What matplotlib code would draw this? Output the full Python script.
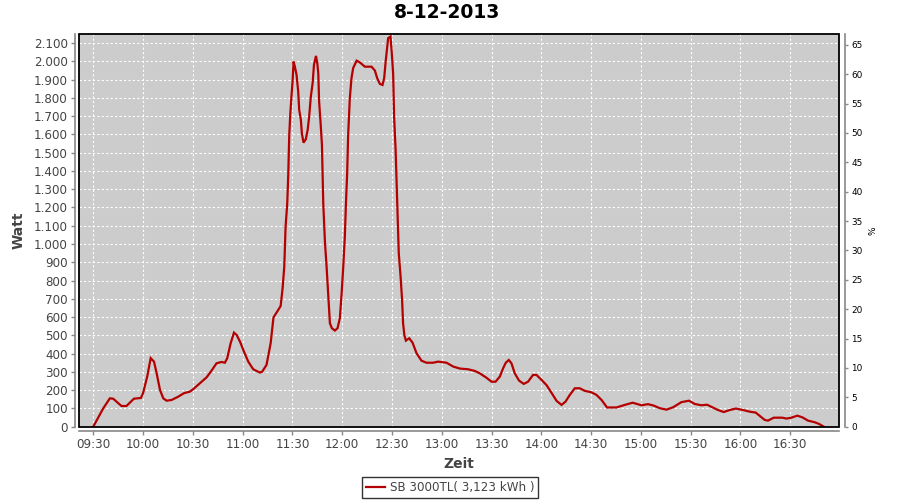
import matplotlib
matplotlib.use("Agg")
import matplotlib.pyplot as plt
import matplotlib.dates as mdates
from matplotlib.patches import Rectangle
from matplotlib.ticker import FuncFormatter, MultipleLocator
import pandas as pd

title = "8-12-2013"
series_label = "SB 3000TL( 3,123 kWh )"
start_time = "2013-12-08 09:30"

# minutes after 09:30 and power in Watt
minutes = [0, 6, 10, 12, 17, 20, 24.5, 28.7, 30, 32.5, 34.6, 36.6, 38.2, 40.2, 42.2,
           44.2, 47.2, 51.2, 54.6, 58.3, 60.2, 64.3, 68.3, 71.3, 74.3, 77.3, 79.3,
           80.7, 82.8, 84.8, 86.4, 88.4, 90.8, 93.4, 96.4, 100.4, 101.8, 104.4, 106.9,
           108.6, 110.5, 112.9, 114.1, 115.1, 115.9, 116.9, 117.5, 118.1, 118.7, 119.5,
           120.1, 120.7, 121.5, 122.5, 123.5, 124.1, 125.1, 125.7, 126.7, 128.1, 129.2,
           130.1, 131.1, 132.2, 133.0, 134.2, 135.0, 135.6, 136.1, 137.0, 137.8, 138.6,
           139.6, 140.6, 141.6, 142.6, 143.8, 145.6, 147.2, 148.6, 149.6, 150.6, 151.6,
           152.2, 153.0, 153.6, 154.6, 155.6, 156.6, 158.7, 160.7, 163.7, 167.7, 169.7,
           171.1, 172.7, 174.3, 175.3, 176.3, 177.7, 179.1, 179.9, 180.7, 181.3, 182.2,
           183.1, 184.1, 185.2, 186.1, 186.7, 187.5, 188.4, 190.4, 192.4, 194.8, 197.8,
           200.8, 204.8, 207.8, 212.9, 216.9, 220.9, 225.9, 229.9, 232.9, 236.6, 240.0,
           242.4, 245.0, 247.0, 248.6, 250.4, 252.0, 254.0, 256.6, 259.4, 262.0, 265.0,
           267.1, 270.1, 273.1, 276.1, 279.2, 282.2, 284.6, 287.2, 290.2, 293.2, 296.2,
           300.2, 303.2, 306.3, 309.6, 315.3, 320.3, 325.0, 330.4, 334.3, 337.8, 341.4,
           345.4, 349.4, 354.4, 359.0, 362.5, 366.5, 369.9, 373.1, 376.5, 379.9, 383.6,
           387.2, 391.6, 395.6, 399.2, 401.6, 404.6, 406.6, 410.1, 415.3, 417.7, 420.7,
           424.3, 427.3, 430.7, 434.8, 437.3, 440.2]
watt = [0, 100, 155, 153, 113, 113, 153, 157, 183, 274, 375, 356, 292, 201, 155,
        142, 146, 164, 183, 192, 205, 238, 270, 307, 347, 354, 350,
        374, 457, 515, 502, 466, 411, 356, 314, 296, 301, 338, 457,
        598, 625, 660, 758, 876, 1095, 1223, 1378, 1597, 1707, 1817,
        1889, 1999, 1971, 1926, 1835, 1734, 1680, 1607, 1555, 1574, 1625,
        1698, 1807, 1881, 1981, 2030, 1990, 1935, 1780, 1661, 1543, 1223,
        1013, 876, 721, 566, 539, 526, 539, 594, 721, 868, 1041,
        1205, 1388, 1597, 1798, 1908, 1963, 2004, 1994, 1971, 1971, 1950,
        1908, 1877, 1871, 1908, 2008, 2127, 2136, 2045, 1935, 1698, 1515,
        1242, 950, 821, 694, 566, 500, 471, 484, 460, 402, 361,
        350, 350, 356, 350, 329, 318, 314, 305, 292, 270, 246,
        246, 274, 320, 350, 365, 347, 292, 252, 234, 246, 283,
        283, 256, 228, 186, 141, 119, 137, 174, 210, 210, 196,
        188, 174, 146, 105, 105, 119, 131, 117, 123, 115, 101,
        93, 106, 134, 142, 124, 117, 120, 106, 91, 80, 91,
        99, 91, 82, 77, 59, 37, 33, 49, 49, 44, 49,
        60, 51, 33, 24, 15, 0]

x_min_offset, x_max_offset = -8.6, 449.4
y_left_max = 2150
watt_per_percent = 32.16

base = pd.Timestamp(start_time)
times = [base + pd.Timedelta(minutes=m) for m in minutes]

fig = plt.figure(figsize=(9, 5), dpi=100)
ax = fig.add_axes([79/900, 73/500, 760/900, 393/500])
ax.set_facecolor("#cccccc")

ax.plot(times, watt, color="#b40000", lw=1.6, label=series_label,
        marker="", solid_joinstyle="miter")

ax.set_xlim(base + pd.Timedelta(minutes=x_min_offset), base + pd.Timedelta(minutes=x_max_offset))
ax.set_ylim(-2, y_left_max)
ax.yaxis.set_major_locator(MultipleLocator(100))
ax.yaxis.set_major_formatter(FuncFormatter(lambda v, p: f"{int(round(v)):,}".replace(",", ".")))
ax.xaxis.set_major_locator(mdates.MinuteLocator(byminute=[0, 30]))
ax.xaxis.set_major_formatter(mdates.DateFormatter("%H:%M"))

ax.grid(True, color="white", linestyle=(0, (2, 2)), linewidth=0.8)
ax.set_axisbelow(True)

grey = "#888888"
for s in ["top", "right"]:
    ax.spines[s].set_visible(False)
for s in ["left", "bottom"]:
    ax.spines[s].set_position(("outward", 3))
    ax.spines[s].set_color(grey)
    ax.spines[s].set_linewidth(1.2)
ax.tick_params(axis="both", colors=grey, labelcolor="#444444", labelsize=8.6,
               length=3, width=1, pad=2)

ax.add_patch(Rectangle((0, 0), 1, 1, transform=ax.transAxes, fill=False,
                       edgecolor="black", lw=1.3, zorder=5, clip_on=False))

ax.set_ylabel("Watt", fontsize=10, fontweight="bold", color="#444444", labelpad=6)
ax.set_xlabel("Zeit", fontsize=10, fontweight="bold", color="#444444", labelpad=4)

ax2 = ax.twinx()
ax2.set_ylim(-2 / watt_per_percent, y_left_max / watt_per_percent)
ax2.yaxis.set_major_locator(MultipleLocator(5))
for s in ["top", "left", "bottom"]:
    ax2.spines[s].set_visible(False)
ax2.spines["right"].set_position(("outward", 4))
ax2.spines["right"].set_color(grey)
ax2.spines["right"].set_linewidth(1.2)
ax2.tick_params(axis="y", colors=grey, labelcolor="black", labelsize=6.4,
                length=2, width=1, pad=3)
ax2.set_ylabel("%", fontsize=6.5, color="black", labelpad=4)

fig.text(447/900, 1 - 13/500, title, ha="center", va="center",
         fontsize=13.5, fontweight="bold")

leg = fig.legend(loc="center", bbox_to_anchor=(450/900, 1 - 487.5/500), frameon=True,
                 fancybox=False, fontsize=8.6, handlelength=1.6, handletextpad=0.4,
                 borderpad=0.35, labelcolor="#444444")
leg.get_frame().set_edgecolor("black")
leg.get_frame().set_linewidth(1.0)

fig.savefig("out.png", dpi=100)
